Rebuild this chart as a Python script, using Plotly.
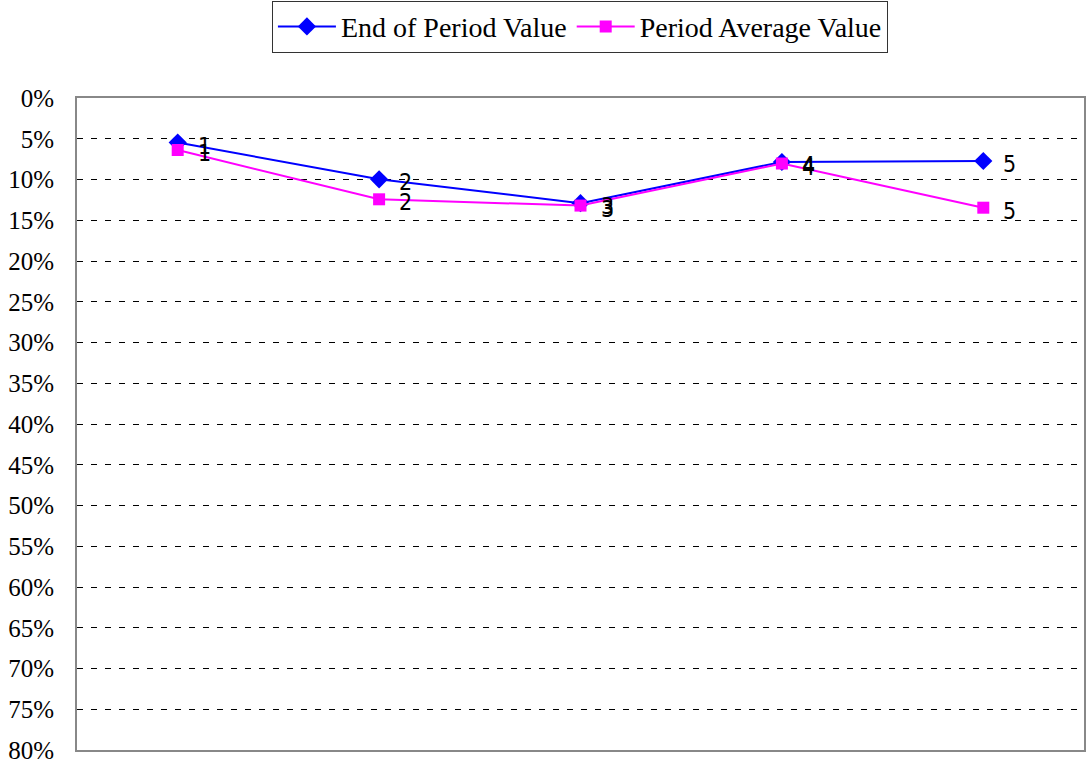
import plotly.graph_objects as go

categories = [1, 2, 3, 4, 5]
point_labels = ["1", "2", "3", "4", "5"]
end_of_period = [5.46, 9.98, 12.9, 7.85, 7.73]
period_average = [6.38, 12.43, 13.2, 8.04, 13.46]
y_ticks = list(range(0, 85, 5))
y_tick_labels = [f"{v}%" for v in y_ticks]

serif = "Liberation Serif"
label_font = dict(family="DejaVu Sans Condensed, Liberation Sans Narrow, Arial Narrow, sans-serif", size=23, color="black")

fig = go.Figure()
fig.add_trace(go.Scatter(
    x=categories, y=end_of_period, name="End of Period Value",
    mode="lines+markers",
    line=dict(color="#0000FF", width=2),
    marker=dict(symbol="diamond", size=14, color="#0000FF"),
))
fig.add_trace(go.Scatter(
    x=categories, y=period_average, name="Period Average Value",
    mode="lines+markers",
    line=dict(color="#FF00FF", width=2),
    marker=dict(symbol="square", size=12, color="#FF00FF"),
))

for series in (end_of_period, period_average):
    for xc, yv, lab in zip(categories, series, point_labels):
        fig.add_annotation(
            x=xc, y=yv, text=lab, showarrow=False,
            xanchor="left", yanchor="middle", xshift=18, yshift=-3,
            font=label_font,
        )

fig.update_layout(
    width=1086, height=764,
    margin=dict(l=77, r=2, t=98, b=14, autoexpand=False),
    paper_bgcolor="white", plot_bgcolor="white",
    font=dict(family=serif, size=26, color="black"),
    showlegend=True,
    legend=dict(
        orientation="h", x=0.534, xanchor="center", xref="container",
        y=0.999, yanchor="top", yref="container",
        bordercolor="#333333", borderwidth=1, bgcolor="white",
        font=dict(family=serif, size=28, color="black"),
        itemwidth=58,
    ),
    xaxis=dict(
        range=[0.5, 5.5], showticklabels=False, showgrid=False, zeroline=False,
        showline=True, linecolor="#888888", linewidth=2, mirror=True, ticks="",
        automargin=False,
    ),
    yaxis=dict(
        range=[80, 0], tickvals=y_ticks, ticktext=y_tick_labels,
        showgrid=True, gridcolor="black", gridwidth=1, griddash="6px,8px",
        zeroline=False, showline=True, linecolor="#888888", linewidth=2, mirror=True,
        ticks="", ticklabelstandoff=16, automargin=False, ticklabeloverflow="allow",
        tickfont=dict(family=serif, size=25, color="black"),
    ),
)

fig.write_html("out.html", config={"displayModeBar": False},
               post_script="document.body.style.margin='0';")
